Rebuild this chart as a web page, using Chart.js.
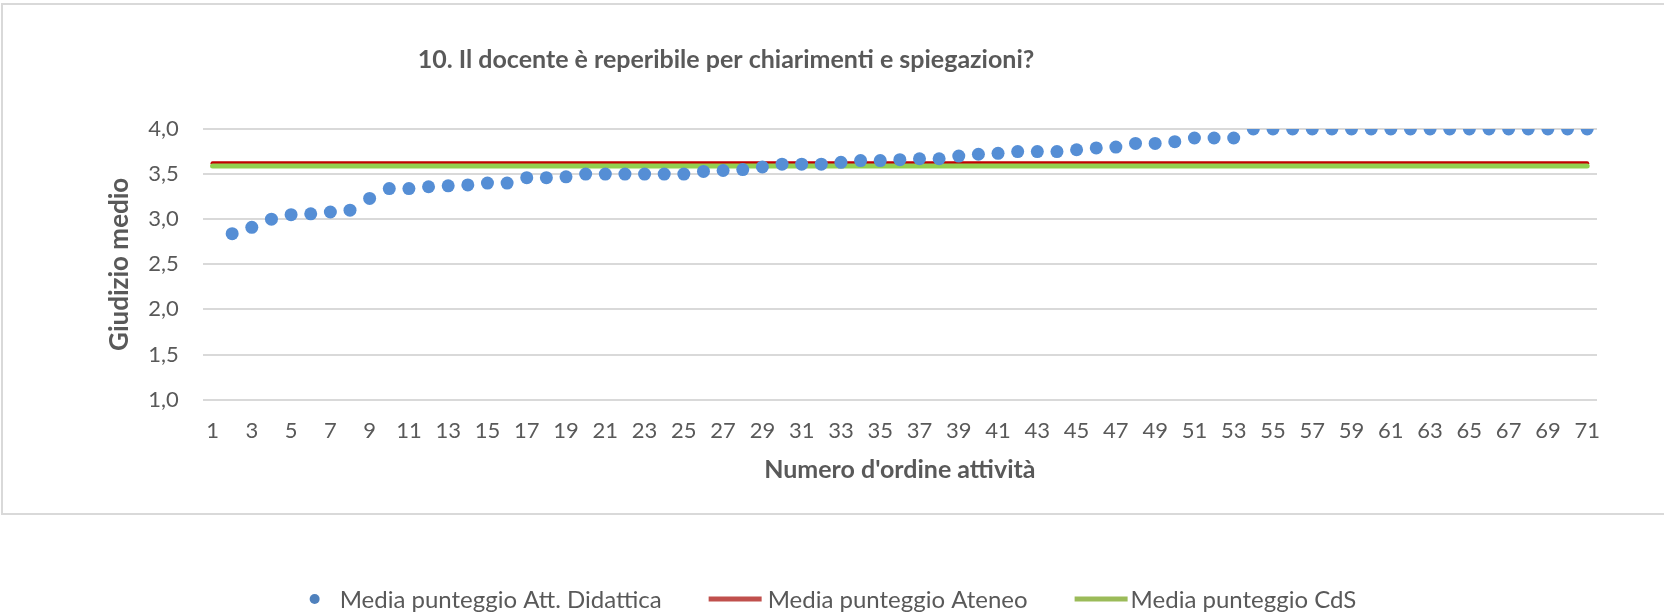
<!DOCTYPE html>
<html>
<head>
<meta charset="utf-8">
<script src="https://cdn.jsdelivr.net/npm/chart.js@4"></script>
<style>
  body { margin: 0; background: #fff; }
  #wrap { width: 1664px; height: 615px; }
</style>
</head>
<body>
<div id="wrap"><canvas id="giudizioChart" width="1664" height="615"></canvas></div>
<script>
// Chart data
const chartTitle = '10. Il docente è reperibile per chiarimenti e spiegazioni?';
const categories = ['1','2','3','4','5','6','7','8','9','10','11','12','13','14','15','16','17','18','19','20',
    '21','22','23','24','25','26','27','28','29','30','31','32','33','34','35','36','37','38','39','40',
    '41','42','43','44','45','46','47','48','49','50','51','52','53','54','55','56','57','58','59','60',
    '61','62','63','64','65','66','67','68','69','70','71'];
const mediaAttDidattica = [null, 2.84, 2.91, 3.00, 3.05, 3.06, 3.08, 3.10, 3.23, 3.34,
    3.34, 3.36, 3.37, 3.38, 3.40, 3.40, 3.46, 3.46, 3.47, 3.50,
    3.50, 3.50, 3.50, 3.50, 3.50, 3.53, 3.54, 3.55, 3.58, 3.61,
    3.61, 3.61, 3.63, 3.65, 3.65, 3.66, 3.67, 3.67, 3.70, 3.72,
    3.73, 3.75, 3.75, 3.75, 3.77, 3.79, 3.80, 3.84, 3.84, 3.86,
    3.90, 3.90, 3.90, 4.00, 4.00, 4.00, 4.00, 4.00, 4.00, 4.00,
    4.00, 4.00, 4.00, 4.00, 4.00, 4.00, 4.00, 4.00, 4.00, 4.00, 4.00];
const mediaAteneo = 3.62;
const mediaCdS = 3.59;
const yTicks = [1.0, 1.5, 2.0, 2.5, 3.0, 3.5, 4.0];

const GRAY = '#595959';
const FONT = 'Lato, "Open Sans", sans-serif';

// border around the plot block (Excel chart frame)
const framePlugin = {
    id: 'frame',
    beforeDraw(chart) {
        const c = chart.ctx;
        c.save();
        c.strokeStyle = '#d9d9d9';
        c.lineWidth = 2;
        c.strokeRect(2, 4, chart.width + 10, 510);
        c.restore();
    }
};

// title, placed like in the original sheet
const titlePlugin = {
    id: 'sheetTitle',
    afterDraw(chart) {
        const c = chart.ctx;
        c.save();
        c.font = 'bold 25px ' + FONT;
        c.fillStyle = GRAY;
        c.textAlign = 'center';
        c.textBaseline = 'middle';
        c.fillText(chartTitle, 726, 60);
        c.restore();
    }
};

// legend below the frame
const legendPlugin = {
    id: 'sheetLegend',
    afterDraw(chart) {
        const c = chart.ctx;
        const ds = chart.data.datasets;
        const y = 599;
        c.save();
        c.font = '24px ' + FONT;
        c.textBaseline = 'middle';
        const items = ds.map(d => ({
            label: d.label,
            line: d.showLine !== false,
            color: d.legendColor,
            w: c.measureText(d.label).width
        }));
        const markerW = [10, 53, 53];
        const gapIn = [20, 6, 3];
        const gapOut = 47;
        let total = 0;
        items.forEach((it, i) => { total += markerW[i] + gapIn[i] + it.w; });
        total += gapOut * (items.length - 1);
        let x = 833 - total / 2;
        items.forEach((it, i) => {
            if (it.line) {
                c.strokeStyle = it.color;
                c.lineWidth = 5;
                c.beginPath();
                c.moveTo(x, y);
                c.lineTo(x + markerW[i], y);
                c.stroke();
            } else {
                c.fillStyle = it.color;
                c.beginPath();
                c.arc(x + 5, y, 5, 0, Math.PI * 2);
                c.fill();
            }
            x += markerW[i] + gapIn[i];
            c.fillStyle = GRAY;
            c.fillText(it.label, x, y + 1);
            x += it.w + gapOut;
        });
        c.restore();
    }
};

const ctx = document.getElementById('giudizioChart');
const chart = new Chart(ctx, {
    type: 'line',
    data: {
        labels: categories,
        datasets: [{
            label: 'Media punteggio Att. Didattica',
            data: mediaAttDidattica,
            showLine: false,
            pointRadius: 6.5,
            pointHoverRadius: 6.5,
            pointBackgroundColor: '#558ed5',
            pointBorderWidth: 0,
            borderColor: '#558ed5',
            legendColor: '#4f81bd',
            order: 0
        }, {
            label: 'Media punteggio Ateneo',
            data: [{x: categories[0], y: mediaAteneo}, {x: categories[categories.length - 1], y: mediaAteneo}],
            borderColor: '#c00000',
            legendColor: '#c0504d',
            borderWidth: 4,
            borderCapStyle: 'round',
            pointRadius: 0,
            order: 2
        }, {
            label: 'Media punteggio CdS',
            data: [{x: categories[0], y: mediaCdS}, {x: categories[categories.length - 1], y: mediaCdS}],
            borderColor: '#92d050',
            legendColor: '#9bbb59',
            borderWidth: 5,
            borderCapStyle: 'round',
            pointRadius: 0,
            order: 1
        }]
    },
    options: {
        responsive: false,
        animation: false,
        layout: {
            padding: { left: 100, right: 67, top: 129, bottom: 130 }
        },
        scales: {
            x: {
                type: 'category',
                offset: true,
                grid: { display: false, drawTicks: false },
                border: { display: false },
                ticks: {
                    autoSkip: false,
                    maxRotation: 0,
                    padding: 18,
                    color: GRAY,
                    font: { family: FONT, size: 22 },
                    callback: function(val, i) {
                        return i % 2 === 0 ? categories[i] : '';
                    }
                },
                title: {
                    display: true,
                    text: "Numero d'ordine attività",
                    color: GRAY,
                    font: { family: FONT, size: 25, weight: 'bold' },
                    padding: { top: -7, bottom: 0 }
                }
            },
            y: {
                min: yTicks[0],
                max: yTicks[yTicks.length - 1],
                grid: { color: '#d9d9d9', lineWidth: 2, drawTicks: false },
                border: { display: false },
                afterBuildTicks: function(axis) {
                    axis.ticks = yTicks.map(v => ({ value: v }));
                },
                ticks: {
                    padding: 24,
                    color: GRAY,
                    font: { family: FONT, size: 22 },
                    callback: function(value) {
                        return value.toFixed(1).replace('.', ',');
                    }
                },
                title: {
                    display: true,
                    text: 'Giudizio medio',
                    color: GRAY,
                    font: { family: FONT, size: 26, weight: 'bold' },
                    padding: { top: 4, bottom: -11 }
                }
            }
        },
        plugins: {
            legend: { display: false },
            tooltip: { enabled: false }
        }
    },
    plugins: [framePlugin, titlePlugin, legendPlugin]
});
</script>
</body>
</html>
